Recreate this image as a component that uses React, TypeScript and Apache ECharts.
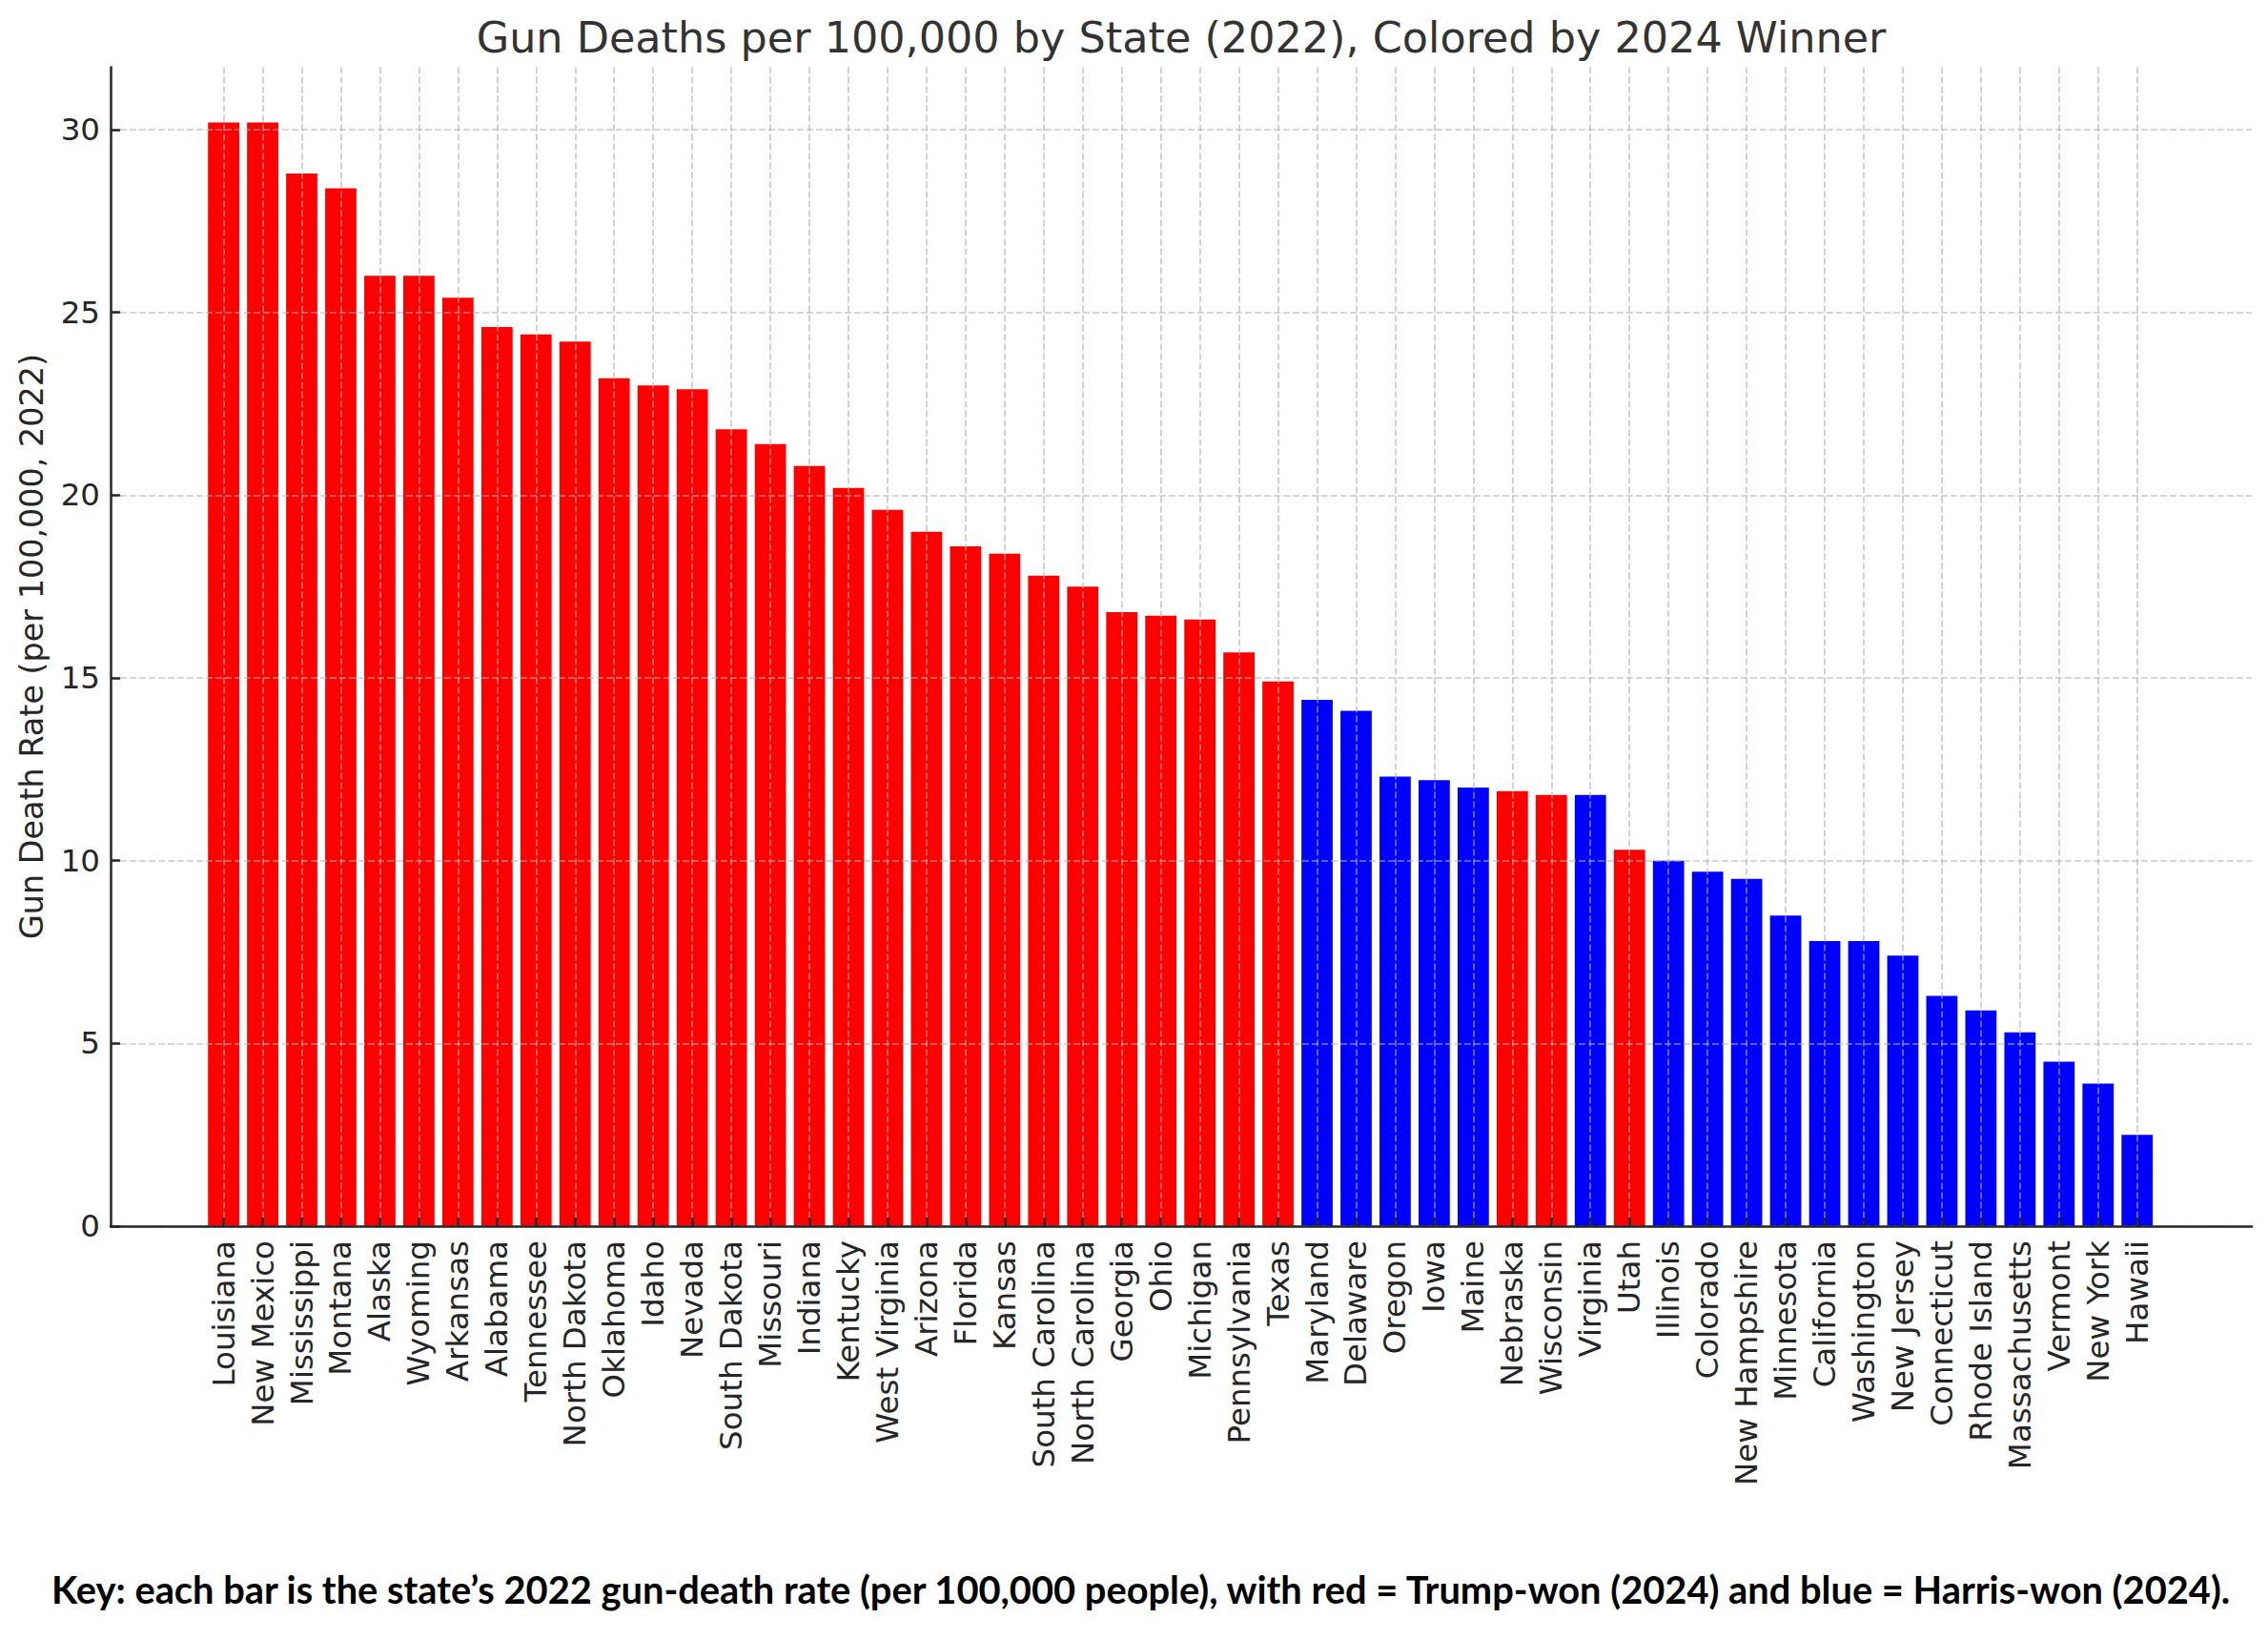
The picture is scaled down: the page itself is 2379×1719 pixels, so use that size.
import { useEffect, useRef } from "react";
import * as echarts from "echarts";

// states ordered by 2022 gun-death rate, highest first
const states = [
  "Louisiana", "New Mexico", "Mississippi", "Montana", "Alaska", "Wyoming",
  "Arkansas", "Alabama", "Tennessee", "North Dakota", "Oklahoma", "Idaho",
  "Nevada", "South Dakota", "Missouri", "Indiana", "Kentucky", "West Virginia",
  "Arizona", "Florida", "Kansas", "South Carolina", "North Carolina", "Georgia",
  "Ohio", "Michigan", "Pennsylvania", "Texas", "Maryland", "Delaware", "Oregon",
  "Iowa", "Maine", "Nebraska", "Wisconsin", "Virginia", "Utah", "Illinois",
  "Colorado", "New Hampshire", "Minnesota", "California", "Washington",
  "New Jersey", "Connecticut", "Rhode Island", "Massachusetts", "Vermont",
  "New York", "Hawaii",
];

const rates = [
  30.2, 30.2, 28.8, 28.4, 26.0, 26.0, 25.4, 24.6, 24.4, 24.2, 23.2, 23.0,
  22.9, 21.8, 21.4, 20.8, 20.2, 19.6, 19.0, 18.6, 18.4, 17.8, 17.5, 16.8,
  16.7, 16.6, 15.7, 14.9, 14.4, 14.1, 12.3, 12.2, 12.0, 11.9, 11.8, 11.8,
  10.3, 10.0, 9.7, 9.5, 8.5, 7.8, 7.8, 7.4, 6.3, 5.9, 5.3, 4.5, 3.9, 2.5,
];

// R = Trump-won, D = Harris-won (as coloured in the chart)
const winners = [
  "R", "R", "R", "R", "R", "R", "R", "R", "R", "R", "R", "R", "R", "R",
  "R", "R", "R", "R", "R", "R", "R", "R", "R", "R", "R", "R", "R", "R",
  "D", "D", "D", "D", "D", "R", "R", "D", "R", "D", "D", "D", "D", "D",
  "D", "D", "D", "D", "D", "D", "D", "D",
];

const yTickValues = [0, 5, 10, 15, 20, 25, 30];
const yMax = 31.71;

const TITLE = "Gun Deaths per 100,000 by State (2022), Colored by 2024 Winner";
const Y_LABEL = "Gun Death Rate (per 100,000, 2022)";
const KEY =
  "Key: each bar is the state\u2019s 2022 gun-death rate (per 100,000 people), with red = Trump-won (2024) and blue = Harris-won (2024).";

const INK = "#262626";
const GRID_LINE = {
  color: "rgba(176,176,176,0.7)",
  width: 1.6,
  type: [7, 3] as number[],
};

export default function App() {
  const chartRef = useRef<HTMLDivElement>(null);

  useEffect(() => {
    document.body.style.margin = "0";
    if (!chartRef.current) return;
    const chart = echarts.init(chartRef.current, undefined, { renderer: "svg" });

    const barData = rates.map((v, i) => ({
      value: v,
      itemStyle: { color: winners[i] === "R" ? "#ff0000" : "#0000ff" },
    }));

    chart.setOption({
      animation: false,
      backgroundColor: "#ffffff",
      textStyle: { fontFamily: "DejaVu Sans" },
      grid: [
        // full axes frame (spines + horizontal grid)
        { left: 116, right: 17, top: 70.5, bottom: 433 },
        // bar bands
        { left: 214.1, right: 116.8, top: 70.5, bottom: 433 },
        // first to last bar centre, for the vertical grid lines
        { left: 234.6, right: 137.3, top: 70.5, bottom: 433 },
      ],
      xAxis: [
        {
          gridIndex: 0,
          type: "value",
          min: 0,
          max: 1,
          z: 4,
          axisLine: { show: true, onZero: false, lineStyle: { color: INK, width: 2.5 } },
          axisTick: { show: false },
          axisLabel: { show: false },
          splitLine: { show: false },
        },
        {
          gridIndex: 1,
          type: "category",
          data: states,
          z: 4,
          axisLine: { show: false },
          axisTick: {
            show: true,
            inside: true,
            length: 9,
            alignWithLabel: true,
            interval: 0,
            lineStyle: { color: INK, width: 2.5 },
          },
          axisLabel: {
            interval: 0,
            rotate: 90,
            margin: 15,
            fontSize: 32.5,
            color: INK,
            fontFamily: "DejaVu Sans",
          },
          splitLine: { show: false },
        },
        {
          gridIndex: 2,
          type: "value",
          min: 0,
          max: states.length - 1,
          interval: 1,
          z: 3,
          axisLine: { show: false },
          axisTick: { show: false },
          axisLabel: { show: false },
          splitLine: { show: true, lineStyle: GRID_LINE },
        },
      ],
      yAxis: [
        {
          gridIndex: 0,
          type: "value",
          min: 0,
          max: yMax,
          interval: 5,
          z: 3,
          axisLine: { show: true, lineStyle: { color: INK, width: 2.5 } },
          axisTick: {
            show: true,
            inside: true,
            length: 10,
            customValues: yTickValues,
            lineStyle: { color: INK, width: 2.5 },
          },
          axisLabel: {
            margin: 11,
            fontSize: 32.5,
            color: INK,
            fontFamily: "DejaVu Sans",
            customValues: yTickValues,
          },
          splitLine: { show: true, lineStyle: GRID_LINE },
        },
        {
          gridIndex: 1,
          type: "value",
          min: 0,
          max: yMax,
          show: false,
          splitLine: { show: false },
        },
        {
          gridIndex: 2,
          type: "value",
          min: 0,
          max: yMax,
          show: false,
          splitLine: { show: false },
        },
      ],
      series: [
        {
          type: "bar",
          xAxisIndex: 1,
          yAxisIndex: 1,
          data: barData,
          barCategoryGap: "20%",
          z: 2,
        },
      ],
      graphic: [
        {
          type: "text",
          x: 1239,
          y: 39.5,
          style: {
            text: TITLE,
            fontSize: 44.5,
            fontFamily: "DejaVu Sans",
            fill: "#333333",
            align: "center",
            verticalAlign: "middle",
          },
        },
        {
          type: "text",
          x: 33.5,
          y: 678,
          rotation: Math.PI / 2,
          style: {
            text: Y_LABEL,
            fontSize: 33.4,
            fontFamily: "DejaVu Sans",
            fill: INK,
            align: "center",
            verticalAlign: "middle",
          },
        },
        {
          type: "text",
          x: 54,
          y: 1666,
          style: {
            text: KEY,
            fontSize: 39.8,
            fontWeight: "bold",
            fontFamily: "Lato",
            fill: "#000000",
            align: "left",
            verticalAlign: "middle",
          },
        },
      ],
    });

    return () => {
      chart.dispose();
    };
  }, []);

  return <div ref={chartRef} style={{ width: "2379px", height: "1719px" }} />;
}
